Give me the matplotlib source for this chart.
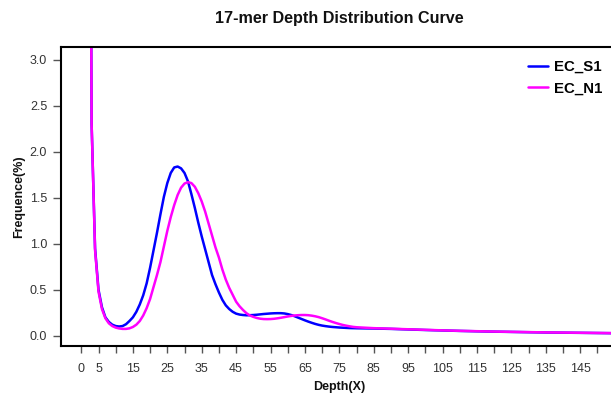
import matplotlib
matplotlib.use("Agg")
import matplotlib.pyplot as plt

plt.rcParams['font.family'] = ['Liberation Sans', 'DejaVu Sans']

depth = list(range(1, 81)) + [85, 90, 95, 100, 105, 110, 115, 120, 125, 130, 135, 140, 145, 150, 155]

ec_s1 = [40.0, 10.7, 2.3, 0.95, 0.50, 0.31, 0.20, 0.15, 0.12, 0.105,
         0.10, 0.105, 0.125, 0.16, 0.20, 0.26, 0.34, 0.44, 0.57, 0.74,
         0.93, 1.12, 1.32, 1.51, 1.66, 1.77, 1.83, 1.84, 1.82, 1.77,
         1.68, 1.54, 1.39, 1.23, 1.08, 0.94, 0.80, 0.66, 0.56, 0.47,
         0.39, 0.33, 0.29, 0.26, 0.24, 0.23, 0.225, 0.222, 0.223, 0.225,
         0.228, 0.232, 0.236, 0.239, 0.242, 0.244, 0.245, 0.245, 0.242, 0.235,
         0.225, 0.212, 0.197, 0.182, 0.167, 0.153, 0.140, 0.128, 0.118, 0.110,
         0.104, 0.099, 0.095, 0.092, 0.089, 0.087, 0.085, 0.083, 0.082, 0.081,
         0.078, 0.074, 0.068, 0.062, 0.057, 0.052, 0.048, 0.044, 0.041, 0.038,
         0.035, 0.033, 0.031, 0.029, 0.027]

ec_n1 = [40.0, 10.7, 2.3, 0.93, 0.48, 0.29, 0.19, 0.135, 0.105, 0.088,
         0.079, 0.074, 0.074, 0.080, 0.095, 0.12, 0.16, 0.22, 0.30, 0.40,
         0.53, 0.66, 0.80, 0.97, 1.14, 1.29, 1.42, 1.53, 1.61, 1.655,
         1.67, 1.66, 1.62, 1.55, 1.46, 1.35, 1.22, 1.09, 0.96, 0.85,
         0.72, 0.61, 0.52, 0.445, 0.37, 0.32, 0.28, 0.245, 0.22, 0.205,
         0.193, 0.185, 0.181, 0.180, 0.181, 0.184, 0.189, 0.195, 0.202, 0.209,
         0.215, 0.220, 0.223, 0.225, 0.225, 0.223, 0.218, 0.211, 0.202, 0.190,
         0.177, 0.163, 0.150, 0.138, 0.127, 0.117, 0.109, 0.102, 0.096, 0.092,
         0.082, 0.076, 0.070, 0.064, 0.058, 0.053, 0.049, 0.045, 0.042, 0.039,
         0.036, 0.034, 0.032, 0.030, 0.028]

series_names = ['EC_S1', 'EC_N1']
series_colors = ['#0000FF', '#FF00FF']

x_ticks = list(range(0, 160, 5))
x_labels = [str(t) if (t == 0 or (t % 10 == 5 and t < 150)) else '' for t in x_ticks]
y_ticks = [0.0, 0.5, 1.0, 1.5, 2.0, 2.5, 3.0]
y_labels = ['0.0', '0.5', '1.0', '1.5', '2.0', '2.5', '3.0']

W, H = 611, 397
fig = plt.figure(figsize=(W / 100, H / 100), dpi=100)
ax = fig.add_axes([61 / W, 1 - 346 / H, (618 - 61) / W, (346 - 47) / H])

for vals, name, col in zip([ec_s1, ec_n1], series_names, series_colors):
    ax.plot(depth, vals, color=col, lw=1.8, label=name, solid_capstyle='round')

ax.set_xlim(-5.9, 156)
ax.set_ylim(-0.112, 3.14)
ax.set_xticks(x_ticks)
ax.set_xticklabels(x_labels, fontsize=9, color='#333333')
ax.set_yticks(y_ticks)
ax.set_yticklabels(y_labels, fontsize=9, color='#333333')
ax.tick_params(axis='x', direction='out', length=5, width=1, color='#555555', pad=7.5)
ax.tick_params(axis='y', direction='out', length=5.5, width=1, color='#555555', pad=4.5)
for s in ax.spines.values():
    s.set_linewidth(1.5)
    s.set_color('black')

ax.set_xlabel('Depth(X)', fontsize=9, fontweight='bold', labelpad=4, color='#111111')
ax.set_ylabel('Frequence(%)', fontsize=9, fontweight='bold', labelpad=3, color='#111111')

fig.text(339 / W, 1 - 19 / H, '17-mer Depth Distribution Curve', ha='center', va='center',
         fontsize=11.6, fontweight='bold', color='#111111')

ax.legend(loc='upper left', bbox_to_anchor=(528 / W, 1 - 60 / H), bbox_transform=fig.transFigure,
          frameon=False, borderpad=0, borderaxespad=0, handlelength=1.3, handletextpad=0.45,
          labelspacing=0.5, prop={'weight': 'bold', 'size': 10.8})

fig.savefig('out.png', dpi=100)
